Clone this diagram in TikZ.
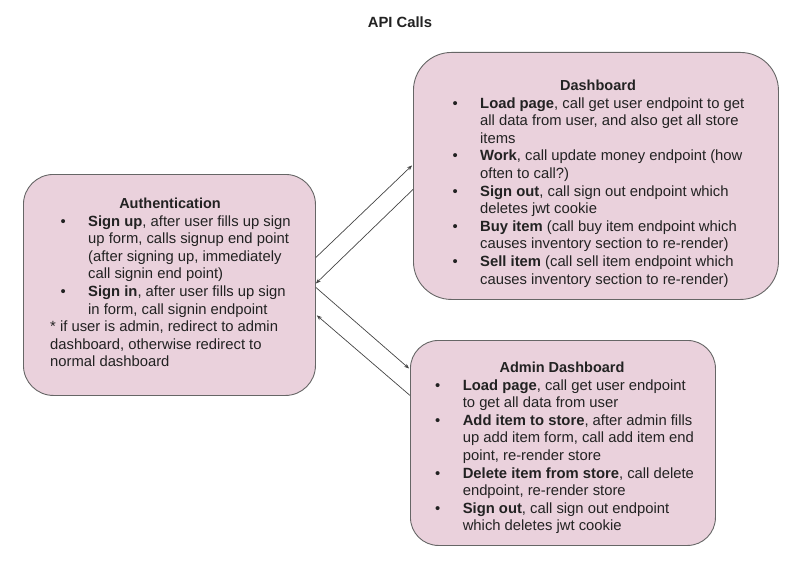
\documentclass[tikz,border=0pt]{standalone}
\usepackage{fontspec}
\setmainfont{Liberation Sans}
\usetikzlibrary{arrows.meta}
\definecolor{boxfill}{HTML}{EAD1DC}
\definecolor{boxline}{HTML}{666666}
\definecolor{txt}{HTML}{222222}
\definecolor{arrowc}{HTML}{444444}
\newcommand{\bul}{\makebox[27.6pt][l]{\textbullet}}
\newcommand{\ind}{\hspace{27.6pt}}
\tikzset{
  box/.style={draw=boxline, fill=boxfill, line width=0.9pt, rounded corners=30pt, inner sep=0pt, anchor=north west},
  head/.style={font=\fontsize{14.5}{17.6}\selectfont\bfseries, text=txt, inner sep=0pt, anchor=center},
  list/.style={font=\fontsize{14.8}{17.6}\selectfont, text=txt, align=left, inner sep=0pt, anchor=north west},
  conn/.style={draw=arrowc, line width=0.7pt, -{Stealth[length=5pt,width=4pt]}},
}
\begin{document}
\begin{tikzpicture}[x=1pt,y=-1pt]
\useasboundingbox (0,0) rectangle (810,572);
\node[font=\fontsize{14.8}{17}\selectfont\bfseries, text=txt, inner sep=0pt] (title) at (400,22) {API Calls};

% boxes
\node[box, minimum width=292pt, minimum height=221pt] (auth) at (23,174) {};
\node[box, minimum width=365pt, minimum height=247pt, rounded corners=38pt] (dash) at (413,52) {};
\node[box, minimum width=305pt, minimum height=205pt, rounded corners=28pt] (admin) at (410,340) {};

% authentication
\node[head] (authh) at (170,203) {Authentication};
\node[list] (authl) at (50,213.6) {\strut\hspace{10.4pt}\bul\textbf{Sign up}, after user fills up sign\\
\hspace{10.4pt}\ind up form, calls signup end point\\
\hspace{10.4pt}\ind (after signing up, immediately\\
\hspace{10.4pt}\ind call signin end point)\\
\hspace{10.4pt}\bul\textbf{Sign in}, after user fills up sign\\
\hspace{10.4pt}\ind in form, call signin endpoint\\
* if user is admin, redirect to admin\\
dashboard, otherwise redirect to\\
normal dashboard};

% dashboard
\node[head] (dashh) at (598,85) {Dashboard};
\node[list] (dashl) at (452.4,95.6) {\strut\bul\textbf{Load page}, call get user endpoint to get\\
\ind all data from user, and also get all store\\
\ind items\\
\bul\textbf{Work}, call update money endpoint (how\\
\ind often to call?)\\
\bul\textbf{Sign out}, call sign out endpoint which\\
\ind deletes jwt cookie\\
\bul\textbf{Buy item} (call buy item endpoint which\\
\ind causes inventory section to re-render)\\
\bul\textbf{Sell item} (call sell item endpoint which\\
\ind causes inventory section to re-render)};

% admin dashboard
\node[head] (adminh) at (562,367) {Admin Dashboard};
\node[list] (adminl) at (435,377.6) {\strut\bul\textbf{Load page}, call get user endpoint\\
\ind to get all data from user\\
\bul\textbf{Add item to store}, after admin fills\\
\ind up add item form, call add item end\\
\ind point, re-render store\\
\bul\textbf{Delete item from store}, call delete\\
\ind endpoint, re-render store\\
\bul\textbf{Sign out}, call sign out endpoint\\
\ind which deletes jwt cookie};

% connectors
\draw[conn] ([yshift=27.5pt]auth.east) -- ([yshift=10.5pt,xshift=-1pt]dash.west);
\draw[conn] ([yshift=-13.5pt]dash.west) -- ([yshift=1.5pt]auth.east);
\draw[conn] ([yshift=-2.5pt]auth.east) -- ([yshift=74.5pt,xshift=-1pt]admin.west);
\draw[conn] ([yshift=47.5pt]admin.west) -- ([yshift=-30.5pt,xshift=1pt]auth.east);
\end{tikzpicture}
\end{document}
